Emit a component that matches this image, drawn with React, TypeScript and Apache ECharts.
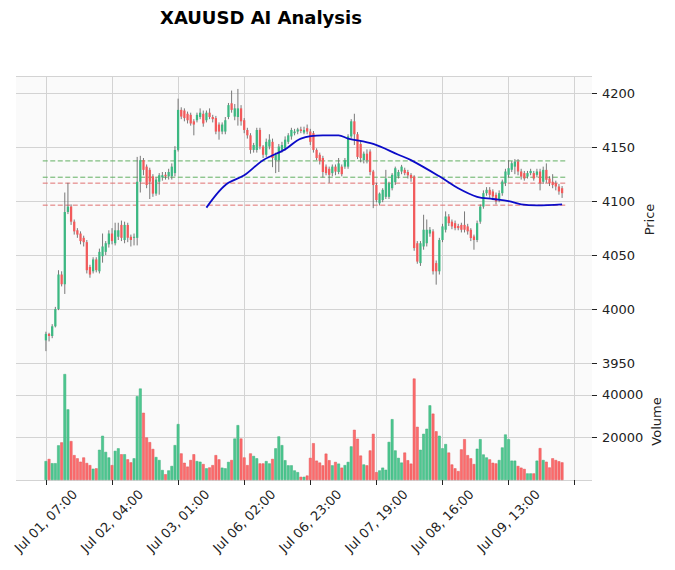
import React, { useEffect, useRef } from "react";
import * as echarts from "echarts";

// ---- data ----
const tickLabels = [
  "Jul 01, 07:00",
  "Jul 02, 04:00",
  "Jul 03, 01:00",
  "Jul 06, 02:00",
  "Jul 06, 23:00",
  "Jul 07, 19:00",
  "Jul 08, 16:00",
  "Jul 09, 13:00",
];
const TICK_STEP = 21; // candles between labelled ticks

const opens = [
  3971, 3977, 3975, 3984, 4000, 4032, 4023, 4090, 4095, 4081,
  4073, 4070, 4066, 4062, 4039, 4035, 4046, 4035, 4049, 4053,
  4060, 4070, 4061, 4067, 4078, 4064, 4078, 4067, 4066, 4066,
  4118, 4138, 4132, 4129, 4123, 4107, 4118, 4122, 4124.5, 4123,
  4123, 4126, 4147.5, 4184.6, 4184, 4181, 4180, 4174, 4175, 4178,
  4181, 4175, 4182, 4178, 4177, 4171, 4164.5, 4164.5, 4178, 4190.7,
  4178.4, 4178, 4186, 4175, 4166, 4161, 4147.5, 4147.5, 4166, 4150.6,
  4143, 4150.6, 4155, 4138, 4138, 4147.5, 4149, 4155, 4160, 4163,
  4164.5, 4166.5, 4163.6, 4167.6, 4164.5, 4163, 4147.5, 4143, 4140, 4132,
  4130, 4126, 4132, 4127, 4132, 4132, 4132, 4160, 4174, 4162,
  4153, 4138, 4144, 4146, 4127.5, 4115, 4098, 4101, 4104, 4104,
  4112, 4117.6, 4123, 4127.5, 4129, 4127, 4124.4, 4122.8, 4061, 4042.6,
  4058, 4061, 4070, 4072, 4042.6, 4035, 4064, 4073.5, 4085.8, 4081,
  4079.6, 4077, 4078, 4078, 4076.6, 4073.5, 4067.3, 4064, 4081, 4095,
  4107.4, 4110.5, 4109, 4105.9, 4101.2, 4107.4, 4116.7, 4124.4, 4129, 4132,
  4136.7, 4127.5, 4126, 4122.8, 4126, 4126, 4124.4, 4127.5, 4118, 4129,
  4121, 4118, 4116.7, 4113.6, 4112,
];
const highs = [
  3979, 3978, 3986, 4002, 4036, 4035, 4108, 4117, 4097, 4083,
  4075, 4072, 4068, 4064, 4041, 4048, 4048, 4056, 4070, 4063,
  4073, 4075, 4080, 4080, 4082, 4081, 4080, 4069, 4070, 4141,
  4142, 4140, 4134, 4131, 4125, 4122, 4126, 4127, 4127, 4130,
  4135, 4151, 4195, 4187, 4186, 4183, 4182, 4176, 4182, 4186,
  4184, 4184, 4186, 4180, 4179, 4173, 4173, 4178, 4191, 4202.5,
  4190, 4204, 4189, 4177, 4168, 4163, 4154, 4168, 4168, 4152,
  4158, 4162, 4158, 4145, 4153, 4155, 4160, 4163, 4168, 4167,
  4168, 4169, 4169, 4171, 4167, 4165, 4149, 4145, 4142, 4134,
  4132, 4134, 4134, 4140, 4134, 4140, 4162, 4176, 4181, 4164,
  4156, 4146, 4148, 4148, 4129, 4117, 4108, 4112, 4129, 4118,
  4126, 4132, 4129, 4133.6, 4131, 4129, 4126, 4124, 4063, 4063,
  4087.4, 4083, 4076, 4074, 4045, 4066, 4079, 4090.5, 4088, 4083,
  4082, 4079, 4080, 4090.5, 4079, 4075, 4069, 4082, 4097, 4110,
  4113, 4113, 4111, 4108, 4110, 4120, 4130, 4138, 4137, 4139,
  4139, 4130, 4128, 4128, 4130, 4128, 4130, 4130, 4132, 4135,
  4123, 4125, 4119, 4116, 4114,
];
const lows = [
  3961, 3970, 3973, 3983, 3999, 4021, 4014, 4088, 4078, 4069,
  4066, 4060, 4058, 4033, 4029, 4033, 4034, 4033, 4043, 4050,
  4057, 4060, 4059, 4064, 4063, 4061, 4062, 4058, 4059, 4059,
  4108, 4124, 4112, 4102, 4104, 4105, 4106, 4119, 4120, 4120,
  4120, 4123, 4146, 4176, 4174, 4172, 4170, 4161, 4173, 4176,
  4169, 4173, 4176, 4173, 4162, 4157, 4162, 4162, 4176, 4182,
  4175, 4170, 4170, 4163, 4158, 4144, 4145, 4145, 4148, 4140,
  4141, 4148, 4131.5, 4126, 4127, 4145, 4147, 4153, 4157, 4161,
  4162, 4163, 4162, 4162, 4152, 4145, 4138, 4134, 4122, 4124,
  4117, 4123, 4124, 4125, 4123, 4130, 4130, 4158, 4152, 4139,
  4136, 4135, 4135, 4124, 4093.5, 4099, 4096, 4099, 4102, 4102,
  4110, 4115, 4121, 4125, 4124, 4121, 4118, 4054, 4042, 4040,
  4055, 4058, 4067, 4032, 4022.6, 4032, 4062, 4071, 4077, 4074,
  4073, 4073, 4071, 4071, 4069, 4063, 4055, 4062, 4079, 4093,
  4105, 4103, 4101, 4097, 4099, 4105, 4114, 4122, 4127, 4125,
  4124, 4120, 4119, 4121, 4124, 4119, 4122, 4110, 4116, 4117,
  4114, 4112, 4110, 4106, 4103,
];
const closes = [
  3977, 3975, 3984, 4000, 4032, 4023, 4090, 4095, 4081, 4072,
  4069, 4063, 4062, 4036, 4032, 4046, 4036, 4053, 4058, 4061,
  4070, 4063, 4073, 4073, 4066, 4078, 4066, 4064, 4067, 4118,
  4138, 4129, 4115, 4118, 4107, 4120, 4124, 4124, 4123, 4127,
  4132, 4147.5, 4184.6, 4178.4, 4177, 4175, 4172, 4171, 4180, 4182,
  4172, 4182, 4178, 4176, 4164.5, 4164.5, 4171, 4175, 4189, 4184.6,
  4186, 4186, 4174, 4166, 4161, 4147.5, 4152, 4166, 4150.6, 4143,
  4155, 4157, 4140, 4143, 4150.6, 4152, 4157, 4161, 4166, 4164.5,
  4166.5, 4165, 4166, 4164.5, 4155, 4147.5, 4140, 4137, 4127, 4126,
  4124.4, 4132, 4127.4, 4135, 4125, 4138, 4160, 4174, 4162, 4141,
  4140, 4144, 4138, 4127, 4115, 4101, 4107, 4110.5, 4121, 4116.6,
  4124.4, 4130.5, 4127, 4132, 4126, 4124, 4121.3, 4056.5, 4044, 4061,
  4073.5, 4073.5, 4073.5, 4035, 4035, 4064, 4076.6, 4085.8, 4079.6, 4076.6,
  4075, 4075, 4073.5, 4073.5, 4072, 4065.8, 4064, 4079.6, 4095, 4107.4,
  4110.5, 4105.9, 4104.3, 4099.7, 4107.4, 4118.2, 4127.5, 4130.6, 4135.2, 4136.7,
  4127.5, 4122.8, 4121, 4126, 4128, 4121, 4127.5, 4116.7, 4129, 4119.8,
  4116.7, 4115, 4113.6, 4109, 4107.4,
];
const volumes = [
  8900, 9900, 7900, 7900, 16300, 17700, 49800, 33200, 18300, 11700,
  10200, 8600, 10600, 8000, 7000, 5300, 5500, 14200, 20800, 13200,
  10600, 7000, 13700, 14900, 12100, 12100, 9700, 8300, 10200, 39400,
  43000, 31600, 20000, 17800, 14600, 10800, 9400, 4700, 2700, 4500,
  6600, 16400, 26300, 12500, 8100, 6300, 9400, 12100, 8900, 8600,
  7500, 5500, 5900, 7000, 11700, 9700, 5800, 5500, 8500, 9400,
  19500, 25800, 19500, 10600, 7000, 12500, 11300, 10200, 7800, 7800,
  8900, 7800, 9900, 14900, 20500, 16400, 9300, 6900, 6900, 4500,
  3700, 1500, 1500, 2100, 10400, 17300, 9100, 8200, 6900, 12400,
  9300, 6900, 8500, 7700, 5800, 7000, 8500, 15800, 23600, 19400,
  11500, 7300, 6900, 13900, 21700, 3700, 4500, 5800, 4800, 17900,
  28600, 13900, 10400, 8200, 12900, 9300, 7700, 47700, 25000, 14200,
  21700, 24100, 35100, 31200, 22900, 20800, 14900, 16900, 12900, 7300,
  5500, 4200, 14400, 19200, 11700, 10200, 7500, 14700, 19200, 12000,
  10600, 9700, 8100, 7800, 9400, 15300, 21400, 19200, 9100, 9100,
  6600, 5800, 5200, 3100, 3100, 3100, 9100, 15000, 9400, 8600,
  5900, 10200, 9400, 8800, 8300,
];
// moving-average line: [candle index, price]
const maPoints = [
  [51, 4094], [55, 4109], [58, 4117], [63, 4124], [69, 4138], [76, 4148],
  [81, 4158], [88, 4161], [93, 4161], [96, 4158], [104, 4153], [112, 4143],
  [116, 4138], [125, 4123], [131, 4112], [137, 4104], [142, 4102], [147, 4100],
  [151, 4097], [156, 4096], [164, 4097],
];
const greenLevels = [4137.3, 4122.2];
const redLevels = [4116.7, 4096.3];

// ---- styling ----
const FONT = "DejaVu Sans";
const UP = "#3cb882";
const DOWN = "#f25a5b";
const VUP = "#4dc790";
const VDOWN = "#fd6b6c";
const GRID = "#d3d3d3";
const PAD = 9; // empty slots on each side of the candles

export default function App() {
  const ref = useRef<HTMLDivElement>(null);
  useEffect(() => {
    if (!ref.current) return;
    const chart = echarts.init(ref.current, undefined, { renderer: "svg" });
    const N = opens.length;
    const total = N + 2 * PAD;
    const cats = Array.from({ length: total }, (_, k) => String(k));
    const isTick = (k: number) => k >= PAD && (k - PAD) % TICK_STEP === 0;
    const isLabel = (k: number) =>
      isTick(k) && tickLabels[(k - PAD) / TICK_STEP] !== undefined;

    const candleData = opens.map((o, i) => [i + PAD, o, closes[i], lows[i], highs[i]]);
    const volData = volumes.map((v, i) => ({
      value: [i + PAD, v],
      itemStyle: {
        color: closes[i] >= opens[i] ? VUP : VDOWN,
        borderColor: closes[i] >= opens[i] ? "#3aae7a" : "#e25556",
        borderWidth: 0.5,
      },
    }));
    const levelSeries = (lvl: number, color: string) => ({
      type: "line",
      xAxisIndex: 0,
      yAxisIndex: 0,
      data: [
        [PAD - 1, lvl],
        [PAD + N, lvl],
      ],
      symbol: "none",
      silent: true,
      lineStyle: { color, width: 1, type: [5, 2.5] },
      z: 1,
    });

    const xBase = (gridIndex: number, showLabels: boolean) => ({
      type: "category",
      gridIndex,
      data: cats,
      boundaryGap: true,
      axisLine: { show: false },
      axisTick: {
        show: showLabels,
        interval: (k: number) => isTick(k),
        alignWithLabel: true,
        length: 5,
        lineStyle: { color: "#222", width: 1 },
      },
      axisLabel: {
        show: showLabels,
        interval: (k: number) => isLabel(k),
        formatter: (_v: string, k: number) => tickLabels[(k - PAD) / TICK_STEP] ?? "",
        rotate: 45,
        align: "center",
        verticalAlign: "middle",
        margin: 41,
        fontSize: 13,
        color: "#222",
        fontFamily: FONT,
      },
      splitLine: {
        show: true,
        interval: (k: number) => isTick(k),
        alignWithLabel: true,
        lineStyle: { color: GRID, width: 1 },
      },
    });

    chart.setOption({
      animation: false,
      textStyle: { fontFamily: FONT },
      title: {
        text: "XAUUSD AI Analysis",
        left: 160,
        top: 8,
        padding: 0,
        textStyle: { fontSize: 18, fontWeight: "bold", color: "#000", fontFamily: FONT },
      },
      grid: [
        { left: 16, top: 76, width: 576, height: 287, show: true, backgroundColor: "#fafafa", borderWidth: 0 },
        { left: 16, top: 363, width: 576, height: 117, show: true, backgroundColor: "#fafafa", borderWidth: 0 },
      ],
      xAxis: [xBase(0, false), xBase(1, true)],
      yAxis: [
        {
          type: "value",
          gridIndex: 0,
          position: "right",
          min: 3950,
          max: 4216,
          interval: 50,
          axisLine: { show: false },
          axisTick: { show: true, length: 5, lineStyle: { color: "#222" } },
          axisLabel: {
            margin: 10,
            fontSize: 13,
            color: "#222",
            showMaxLabel: false,
            formatter: (v: number) => (v % 50 === 0 ? String(v) : ""),
          },
          splitLine: { show: true, lineStyle: { color: GRID, width: 1 } },
          name: "Price",
          nameLocation: "middle",
          nameRotate: 90,
          nameGap: 51,
          nameMoveOverlap: false,
          nameTextStyle: { fontSize: 13, color: "#222" },
        },
        {
          type: "value",
          gridIndex: 1,
          position: "right",
          min: 0,
          max: 55000,
          interval: 20000,
          axisLine: { show: false },
          axisTick: { show: true, length: 5, lineStyle: { color: "#222" } },
          axisLabel: {
            margin: 10,
            fontSize: 13,
            color: "#222",
            showMaxLabel: false,
            showMinLabel: false,
            formatter: (v: number) => (v === 20000 || v === 40000 ? String(v) : ""),
          },
          splitLine: { show: true, lineStyle: { color: GRID, width: 1 } },
          name: "Volume",
          nameLocation: "middle",
          nameRotate: 90,
          nameGap: 58,
          nameMoveOverlap: false,
          nameTextStyle: { fontSize: 13, color: "#222" },
        },
      ],
      series: [
        ...greenLevels.map((l) => levelSeries(l, "#62b062")),
        ...redLevels.map((l) => levelSeries(l, "#e07070")),
        {
          type: "custom",
          xAxisIndex: 0,
          yAxisIndex: 0,
          data: candleData,
          encode: { x: 0, y: [1, 2, 3, 4] },
          z: 3,
          renderItem: (_params: any, api: any) => {
            const x = api.value(0);
            const o = api.value(1);
            const c = api.value(2);
            const l = api.value(3);
            const h = api.value(4);
            const pO = api.coord([x, o]);
            const pC = api.coord([x, c]);
            const pL = api.coord([x, l]);
            const pH = api.coord([x, h]);
            const w = api.size([1, 0])[0] * 0.72;
            const up = c >= o;
            const top = Math.min(pO[1], pC[1]);
            const hgt = Math.max(Math.abs(pO[1] - pC[1]), 0.8);
            return {
              type: "group",
              children: [
                {
                  type: "line",
                  shape: { x1: pH[0], y1: pH[1], x2: pL[0], y2: pL[1] },
                  style: { stroke: "#6a6a6a", lineWidth: 0.9 },
                },
                {
                  type: "rect",
                  shape: { x: pO[0] - w / 2, y: top, width: w, height: hgt },
                  style: { fill: up ? UP : DOWN, stroke: null },
                },
              ],
            };
          },
        },
        {
          type: "line",
          xAxisIndex: 0,
          yAxisIndex: 0,
          data: maPoints.map(([i, v]) => [i + PAD, v]),
          smooth: 0.35,
          symbol: "none",
          lineStyle: { color: "#0b0bc8", width: 1.8 },
          z: 4,
        },
        {
          type: "bar",
          xAxisIndex: 1,
          yAxisIndex: 1,
          data: volData,
          barWidth: "88%",
        },
      ],
    });
    return () => chart.dispose();
  }, []);
  return (
    <div
      ref={ref}
      style={{ position: "absolute", left: 0, top: 0, width: 675, height: 570, background: "#fff" }}
    />
  );
}
